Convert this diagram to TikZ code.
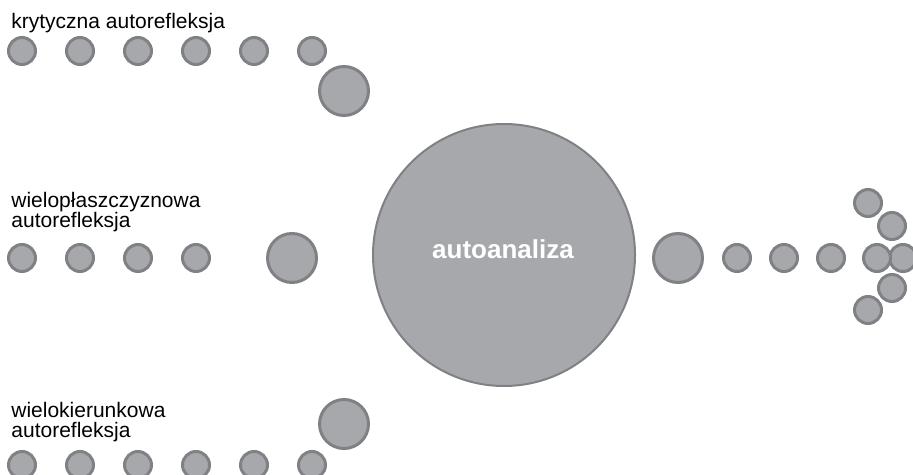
\documentclass[tikz,border=0pt]{standalone}
\usepackage{fontspec}
\setmainfont{Liberation Sans}
\usepackage{xcolor}
\usetikzlibrary{positioning}

\definecolor{dotfill}{HTML}{A7A8AB}
\definecolor{dotline}{HTML}{808184}

\begin{document}
\begin{tikzpicture}[
    x=0.5pt, y=-0.5pt,
    node distance=14pt,
    dotnode/.style={circle, draw=dotline, fill=dotfill, line width=1.5pt, minimum size=13.5pt, inner sep=0pt},
    bignode/.style={dotnode, minimum size=24.5pt},
    corenode/.style={circle, draw=dotline, fill=dotfill, line width=1pt, minimum size=131pt, inner sep=0pt},
    tag/.style={anchor=north west, inner sep=0pt, align=left, font=\fontsize{10.5}{10}\selectfont},
    ]

    \useasboundingbox (0,0) rectangle (913,475);
    \clip (0,0) rectangle (913,475);

    % top row
    \node[tag] (toplabel) at (11,13) {krytyczna autorefleksja};
    \node[dotnode] (t1) at (22,51) {};
    \foreach \i [count=\j from 2] in {1,...,5}
        \node[dotnode] (t\j) [right=of t\i] {};
    \node[bignode] (tbig) at (344,91) {};

    % middle row
    \node[tag] (midlabel) at (11,192) {wielopłaszczyznowa\\autorefleksja};
    \node[dotnode] (m1) at (22,258) {};
    \foreach \i [count=\j from 2] in {1,...,3}
        \node[dotnode] (m\j) [right=of m\i] {};
    \node[bignode] (mbig) at (292,258) {};

    % bottom row
    \node[tag] (botlabel) at (11,402) {wielokierunkowa\\autorefleksja};
    \node[dotnode] (b1) at (22,465) {};
    \foreach \i [count=\j from 2] in {1,...,5}
        \node[dotnode] (b\j) [right=of b\i] {};
    \node[bignode] (bbig) at (344,424) {};

    % centre
    \node[corenode] (core) at (504,255) {};
    \node[anchor=base, text=white, font=\bfseries\fontsize{13}{15}\selectfont] (coretext) at (503,258) {autoanaliza};

    % right side
    \node[bignode] (rbig) at (678,258) {};
    \node[dotnode] (r1) [right=9pt of rbig] {};
    \node[dotnode] (r2) [right=8.5pt of r1] {};
    \node[dotnode] (r3) [right=8.5pt of r2] {};
    \node[dotnode] (c1) at (868,203) {};
    \node[dotnode] (c2) at (892,226) {};
    \node[dotnode] (c3) at (903,258) {};
    \node[dotnode] (c4) at (877,258) {};
    \node[dotnode] (c5) at (892,288) {};
    \node[dotnode] (c6) at (868,310) {};
\end{tikzpicture}
\end{document}
